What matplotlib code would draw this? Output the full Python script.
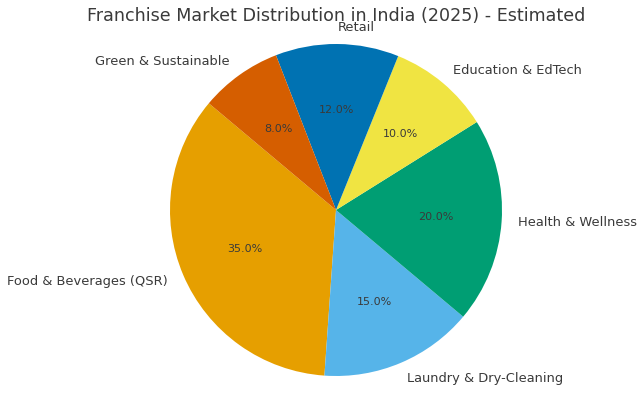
import matplotlib
matplotlib.use("Agg")
import matplotlib.pyplot as plt

# data
sectors = ["Food & Beverages (QSR)", "Laundry & Dry-Cleaning", "Health & Wellness",
           "Education & EdTech", "Retail", "Green & Sustainable"]
shares = [35, 15, 20, 10, 12, 8]
colors = ["#E69F00", "#56B4E9", "#009E73", "#F0E442", "#0072B2", "#D55E00"]

text_col = "#3a3a3a"

fig = plt.figure(figsize=(6.38, 3.96), dpi=100)
# square axes, pie radius ~166 px, center at (336, 186) px
side = 2.5 * 166
ax = fig.add_axes([(336 - side / 2) / 638, (186 - side / 2) / 396, side / 638, side / 396])

wedges, texts, autotexts = ax.pie(shares, labels=sectors, colors=colors, startangle=140,
                                  autopct="%1.1f%%", pctdistance=0.6, labeldistance=1.1,
                                  textprops={"color": text_col, "fontsize": 9.4})
for t in autotexts:
    t.set_fontsize(8)
ax.set_aspect("equal")

fig.text(336 / 638, 1 - 16 / 396, "Franchise Market Distribution in India (2025) - Estimated",
         ha="center", va="center", fontsize=12.65, color=text_col)

fig.savefig("out.png", dpi=100)
